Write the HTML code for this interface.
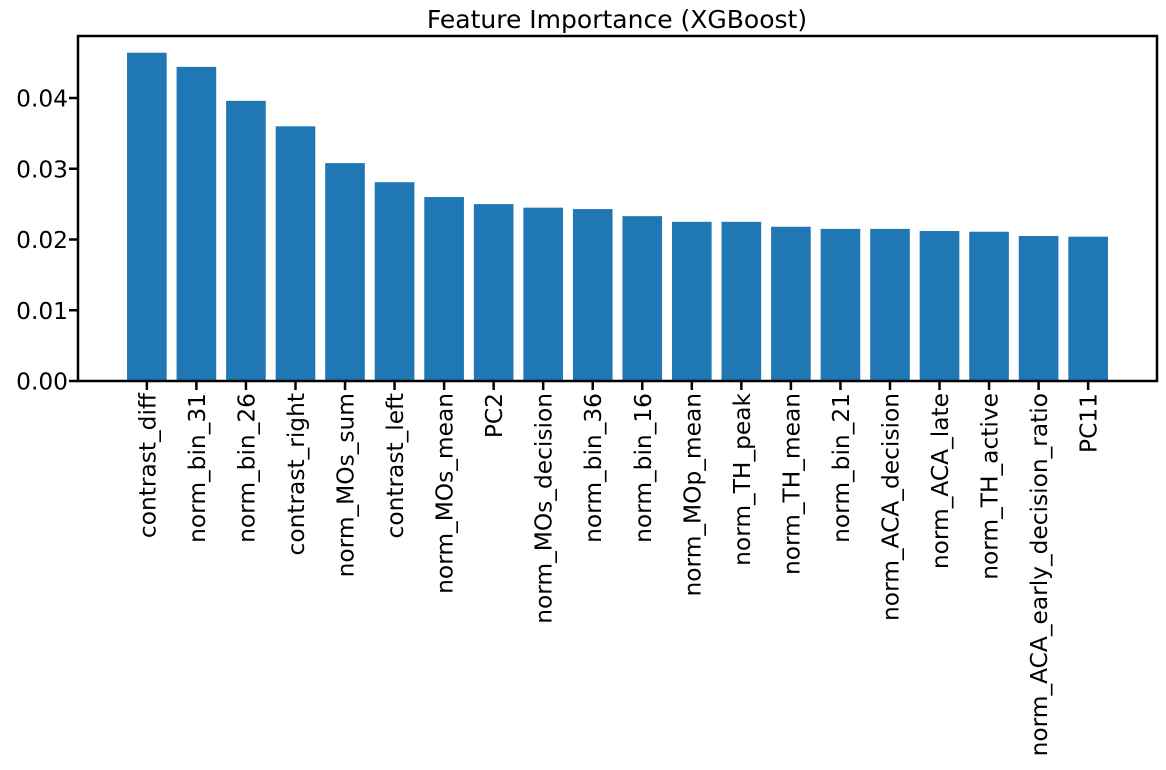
<!DOCTYPE html>
<html><head><meta charset="utf-8"><style>
body{margin:0;background:#fff;}
svg text{font-family:"DejaVu Sans","Liberation Sans",sans-serif;fill:#000;}
</style></head><body>
<svg id="chart" width="1166" height="765">
<text x="617" y="28" font-size="25" text-anchor="middle">Feature Importance (XGBoost)</text>
<g id="bars"></g><g id="yaxis"></g><g id="xaxis"></g>
<rect x="78" y="36" width="1079" height="345" fill="none" stroke="#000" stroke-width="2.5"/>
</svg>
<script>
const categories=["contrast_diff","norm_bin_31","norm_bin_26","contrast_right","norm_MOs_sum","contrast_left","norm_MOs_mean","PC2","norm_MOs_decision","norm_bin_36","norm_bin_16","norm_MOp_mean","norm_TH_peak","norm_TH_mean","norm_bin_21","norm_ACA_decision","norm_ACA_late","norm_TH_active","norm_ACA_early_decision_ratio","PC11"];
const values=[0.0464,0.0444,0.0396,0.0360,0.0308,0.0281,0.0260,0.0250,0.0245,0.0243,0.0233,0.0225,0.0225,0.0218,0.0215,0.0215,0.0212,0.0211,0.0205,0.0204];
const yTicks=[0,0.01,0.02,0.03,0.04];
const yTickLabels=["0.00","0.01","0.02","0.03","0.04"];
const NS="http://www.w3.org/2000/svg";
const L=78,R=1157,T=36,B=381;
const n=categories.length;
const xmin=-0.4-0.05*(n-0.2),xmax=n-1+0.4+0.05*(n-0.2);
const x=i=>L+(i-xmin)/(xmax-xmin)*(R-L);
const y=v=>B-v/0.04*(B-98);
const bw=0.8*(R-L)/(xmax-xmin);
function mk(t,a,p){const e=document.createElementNS(NS,t);for(const k in a)e.setAttribute(k,a[k]);p.appendChild(e);return e;}
const gb=document.getElementById('bars'),gx=document.getElementById('xaxis'),gy=document.getElementById('yaxis');
values.forEach((v,i)=>{
 const r=mk('rect',{x:x(i)-bw/2,y:y(v),width:bw,height:B-y(v),fill:'#1f77b4'},gb);
 
 
 const tk=mk('line',{x1:x(i),x2:x(i),y1:B,y2:B+9,stroke:'#000','stroke-width':2.5},gx);
 
 
 const t=mk('text',{x:0,y:0,'font-size':23.3,'text-anchor':'end',transform:`translate(${x(i)+8.5},${B+12}) rotate(-90)`},gx);
 t.textContent=categories[i];
 
 
});
yTicks.forEach((v,i)=>{
 const tk=mk('line',{x1:L-9,x2:L,y1:y(v),y2:y(v),stroke:'#000','stroke-width':2.5},gy);
 
 
 const t=mk('text',{x:L-10,y:y(v)+8.5,'font-size':23.3,'text-anchor':'end'},gy);
 t.textContent=yTickLabels[i];
 
 
});
</script>
</body></html>
